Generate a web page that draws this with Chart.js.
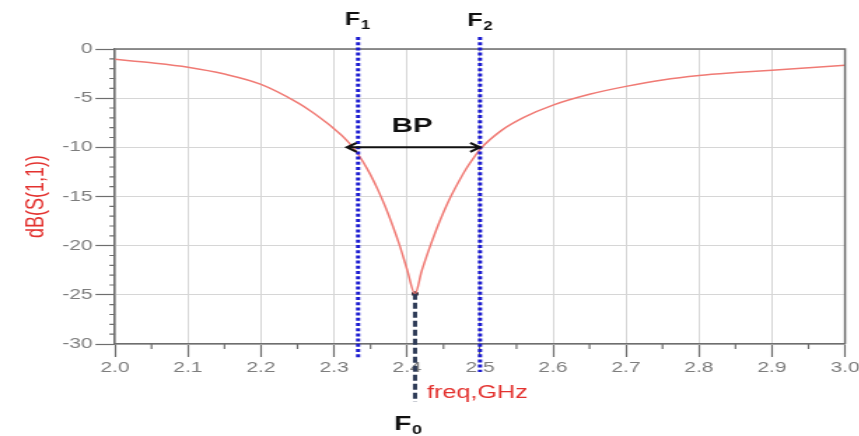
<!DOCTYPE html>
<html>
<head>
<meta charset="utf-8">
<script src="https://cdn.jsdelivr.net/npm/chart.js@4.4.1/dist/chart.umd.min.js"></script>
<style>
  html, body { margin: 0; padding: 0; background: #fff; overflow: hidden; }
  /* the plot is drawn narrow and widened, so glyphs come out broad like an ADS export */
  #wrap { width: 614px; height: 436px; transform: scaleX(1.4); transform-origin: 0 0; }
</style>
</head>
<body>
<div id="wrap"><canvas id="s11Chart" width="614" height="436"></canvas></div>
<script>
// S11 sweep, 2-3 GHz
const freqGHz = [2.00, 2.05, 2.10, 2.15, 2.20, 2.25, 2.27, 2.29, 2.30, 2.31, 2.32, 2.33, 2.34, 2.35, 2.36, 2.37, 2.38, 2.39, 2.40,
                 2.411, 2.42, 2.43, 2.44, 2.45, 2.46, 2.47, 2.48, 2.49, 2.50, 2.53, 2.56, 2.60, 2.65, 2.70, 2.75,
                 2.80, 2.85, 2.90, 2.95, 3.00];
const s11dB = [-1.05, -1.40, -1.85, -2.55, -3.60, -5.45, -6.40, -7.50, -8.10, -8.75, -9.50, -10.4, -11.5, -12.8, -14.3, -16.0, -17.9, -20.0, -22.4,
               -24.9, -22.6, -20.4, -18.4, -16.6, -15.0, -13.6, -12.3, -11.2, -10.2, -8.25, -6.95, -5.70, -4.6, -3.8, -3.15,
               -2.7, -2.4, -2.15, -1.9, -1.65];

// band edges at -10 dB and the resonance
const f1GHz = 2.333;
const f2GHz = 2.5;
const f0GHz = 2.411;
const f0dB = -24.9;
const bandLevelDB = -10;

const SX = 1.4;               // horizontal widening applied by CSS
const plotLeft = 115 / SX;
const plotRight = 845 / SX;

const GRID = '#d6d6d6';
const AXIS = '#6e6e6e';
const TICKTXT = '#7d7d7d';
const RED = '#e3322f';

function subLabel(ctx, x, y, main, sub, size, subSize, drop) {
  ctx.font = `bold ${size}px "Liberation Sans", Arial, sans-serif`;
  ctx.fillText(main, x, y);
  const w = ctx.measureText(main).width;
  ctx.font = `bold ${subSize}px "Liberation Sans", Arial, sans-serif`;
  ctx.fillText(sub, x + w + 0.5, y + drop);
}

const markup = {
  id: 'markup',
  afterDraw(chart) {
    const { ctx, chartArea: a, scales: { x, y } } = chart;
    ctx.save();

    // top and right frame
    ctx.strokeStyle = AXIS;
    ctx.lineWidth = 1.5;
    ctx.beginPath();
    ctx.moveTo(a.left, a.top);
    ctx.lineTo(a.right, a.top);
    ctx.lineTo(a.right, a.bottom);
    ctx.stroke();

    // minor ticks
    ctx.lineWidth = 1.2;
    ctx.beginPath();
    for (let v = -29; v < 0; v++) {
      if (v % 5 === 0) continue;
      const py = y.getPixelForValue(v);
      ctx.moveTo(a.left - 4, py);
      ctx.lineTo(a.left, py);
    }
    for (let i = 0; i < 10; i++) {
      const px = x.getPixelForValue(2.05 + i * 0.1);
      ctx.moveTo(px, a.bottom);
      ctx.lineTo(px, a.bottom + 5);
    }
    ctx.stroke();

    // F1 / F2 dotted markers
    const p1 = x.getPixelForValue(f1GHz);
    const p2 = x.getPixelForValue(f2GHz);
    const p0 = x.getPixelForValue(f0GHz);
    ctx.strokeStyle = '#1b1bd0';
    ctx.lineWidth = 3;
    ctx.setLineDash([3, 2.2]);
    ctx.beginPath();
    ctx.moveTo(p1, 37); ctx.lineTo(p1, 358);
    ctx.moveTo(p2, 37); ctx.lineTo(p2, 372);
    ctx.stroke();

    // F0 dashed drop line from the resonance
    ctx.strokeStyle = '#2d3a56';
    ctx.setLineDash([6, 3]);
    ctx.beginPath();
    ctx.moveTo(p0, y.getPixelForValue(f0dB));
    ctx.lineTo(p0, 402);
    ctx.stroke();
    ctx.setLineDash([]);

    // bandwidth arrow
    const py = y.getPixelForValue(bandLevelDB);
    const l = p1 - 8, r = p2;
    ctx.strokeStyle = '#111';
    ctx.lineWidth = 2;
    ctx.beginPath();
    ctx.moveTo(l, py); ctx.lineTo(r, py);
    ctx.moveTo(l + 7, py - 4.5); ctx.lineTo(l, py); ctx.lineTo(l + 7, py + 4.5);
    ctx.moveTo(r - 7, py - 4.5); ctx.lineTo(r, py); ctx.lineTo(r - 7, py + 4.5);
    ctx.stroke();

    // labels
    ctx.fillStyle = '#111';
    ctx.textBaseline = 'alphabetic';
    ctx.textAlign = 'left';
    subLabel(ctx, p1 - 9.5, 25, 'F', '1', 18, 12, 4);
    subLabel(ctx, p2 - 9, 26, 'F', '2', 18, 12, 4);
    subLabel(ctx, p0 - 15, 430, 'F', '0', 20, 13, 4);

    ctx.font = 'bold 21px "Liberation Sans", Arial, sans-serif';
    ctx.textAlign = 'center';
    ctx.fillText('BP', (p1 + p2) / 2 - 5, 132);

    ctx.fillStyle = RED;
    ctx.textAlign = 'left';
    ctx.font = '18px "Liberation Sans", Arial, sans-serif';
    ctx.fillText('freq,GHz', p0 + 8.5, 398);

    ctx.restore();
  }
};

new Chart(document.getElementById('s11Chart'), {
  type: 'line',
  data: {
    datasets: [
      {
        data: freqGHz.map((f, i) => ({ x: f, y: s11dB[i] })),
        borderColor: '#f07a74',
        borderWidth: 1.5,
        pointRadius: 0,
        cubicInterpolationMode: 'monotone'
      },
      {
        data: [{ x: f0GHz, y: f0dB }],
        showLine: false,
        pointRadius: 2.5,
        pointBackgroundColor: '#3b2a33',
        pointBorderWidth: 0
      }
    ]
  },
  options: {
    responsive: false,
    animation: false,
    layout: { padding: { top: 49, right: 614 - plotRight, left: 0, bottom: 0 } },
    plugins: { legend: { display: false }, tooltip: { enabled: false } },
    scales: {
      x: {
        type: 'linear',
        min: 2,
        max: 3,
        afterFit(s) { s.height = 92; s.paddingLeft = 0; s.paddingRight = 0; },
        ticks: {
          stepSize: 0.1,
          padding: 2,
          color: TICKTXT,
          font: { family: '"Liberation Sans", Arial, sans-serif', size: 15 },
          maxRotation: 0,
          callback: v => v.toFixed(1)
        },
        grid: { color: GRID, lineWidth: 1, tickColor: AXIS, tickLength: 13, tickWidth: 1.2 },
        border: { color: AXIS, width: 1.5 }
      },
      y: {
        min: -30,
        max: 0,
        afterFit(s) { s.width = plotLeft; },
        ticks: {
          stepSize: 5,
          padding: 2,
          color: TICKTXT,
          font: { family: '"Liberation Sans", Arial, sans-serif', size: 15 }
        },
        grid: { color: GRID, lineWidth: 1, tickColor: AXIS, tickLength: 14, tickWidth: 1.2 },
        border: { color: AXIS, width: 1.5 },
        title: {
          display: true,
          text: 'dB(S(1,1))',
          color: RED,
          font: { family: '"Liberation Sans", Arial, sans-serif', size: 18 },
          padding: { top: 15.5, bottom: 0 }
        }
      }
    }
  },
  plugins: [markup]
});
</script>
</body>
</html>
